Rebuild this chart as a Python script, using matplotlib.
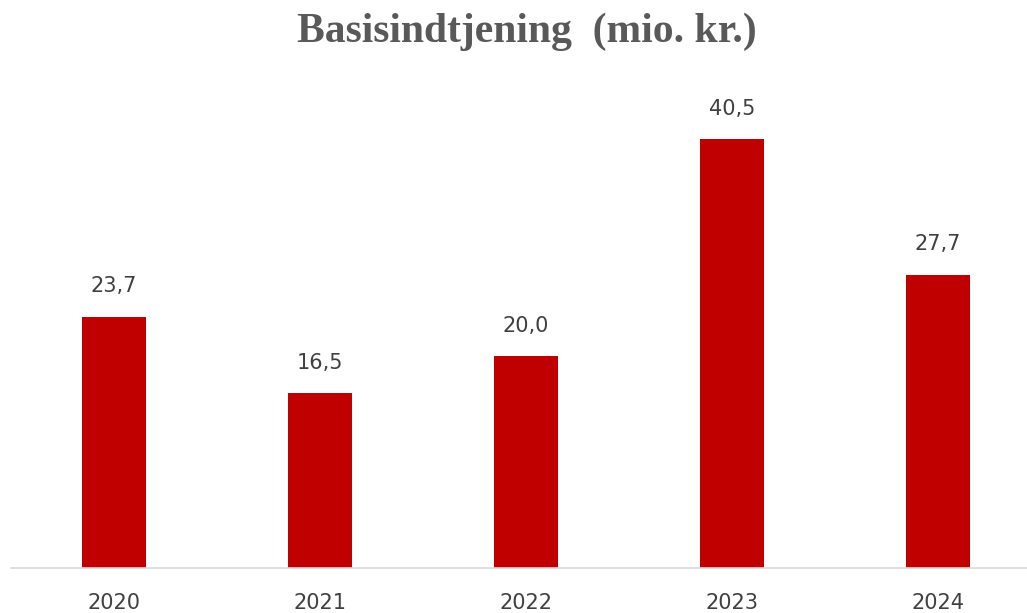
import matplotlib.pyplot as plt
import numpy as np

# Data
years = ['2020', '2021', '2022', '2023', '2024']
earnings = [23.7, 16.5, 20.0, 40.5, 27.7]

fig = plt.figure(figsize=(10.27, 6.13), dpi=100)
ax = fig.add_axes([11 / 1027, 45 / 613, 1030 / 1027, 529.5 / 613])

x = np.arange(len(years))
bars = ax.bar(x, earnings, width=0.31, color='#C00000', zorder=2)

ax.set_xlim(-0.5, len(years) - 0.5)
ax.set_ylim(0, 50)

# Data labels
for xi, v in zip(x, earnings):
    ax.annotate(f'{v:.1f}'.replace('.', ','), (xi, v), xytext=(0, 22),
                textcoords='offset points', ha='center', va='center',
                fontsize=15, color='#404040', family='DejaVu Sans')

ax.set_xticks(x)
ax.set_xticklabels(years, fontsize=15, color='#404040', family='DejaVu Sans')
ax.tick_params(axis='x', length=0, pad=18)
ax.set_yticks([])

for s in ['top', 'right', 'left']:
    ax.spines[s].set_visible(False)
ax.spines['bottom'].set_color('#d9d9d9')
ax.spines['bottom'].set_linewidth(1.2)

fig.text(527 / 1027, 1 - 32 / 613, 'Basisindtjening  (mio. kr.)', ha='center', va='center',
         fontsize=30, fontweight='bold', color='#595959', family='Liberation Serif')

fig.savefig('out.png', dpi=100)
